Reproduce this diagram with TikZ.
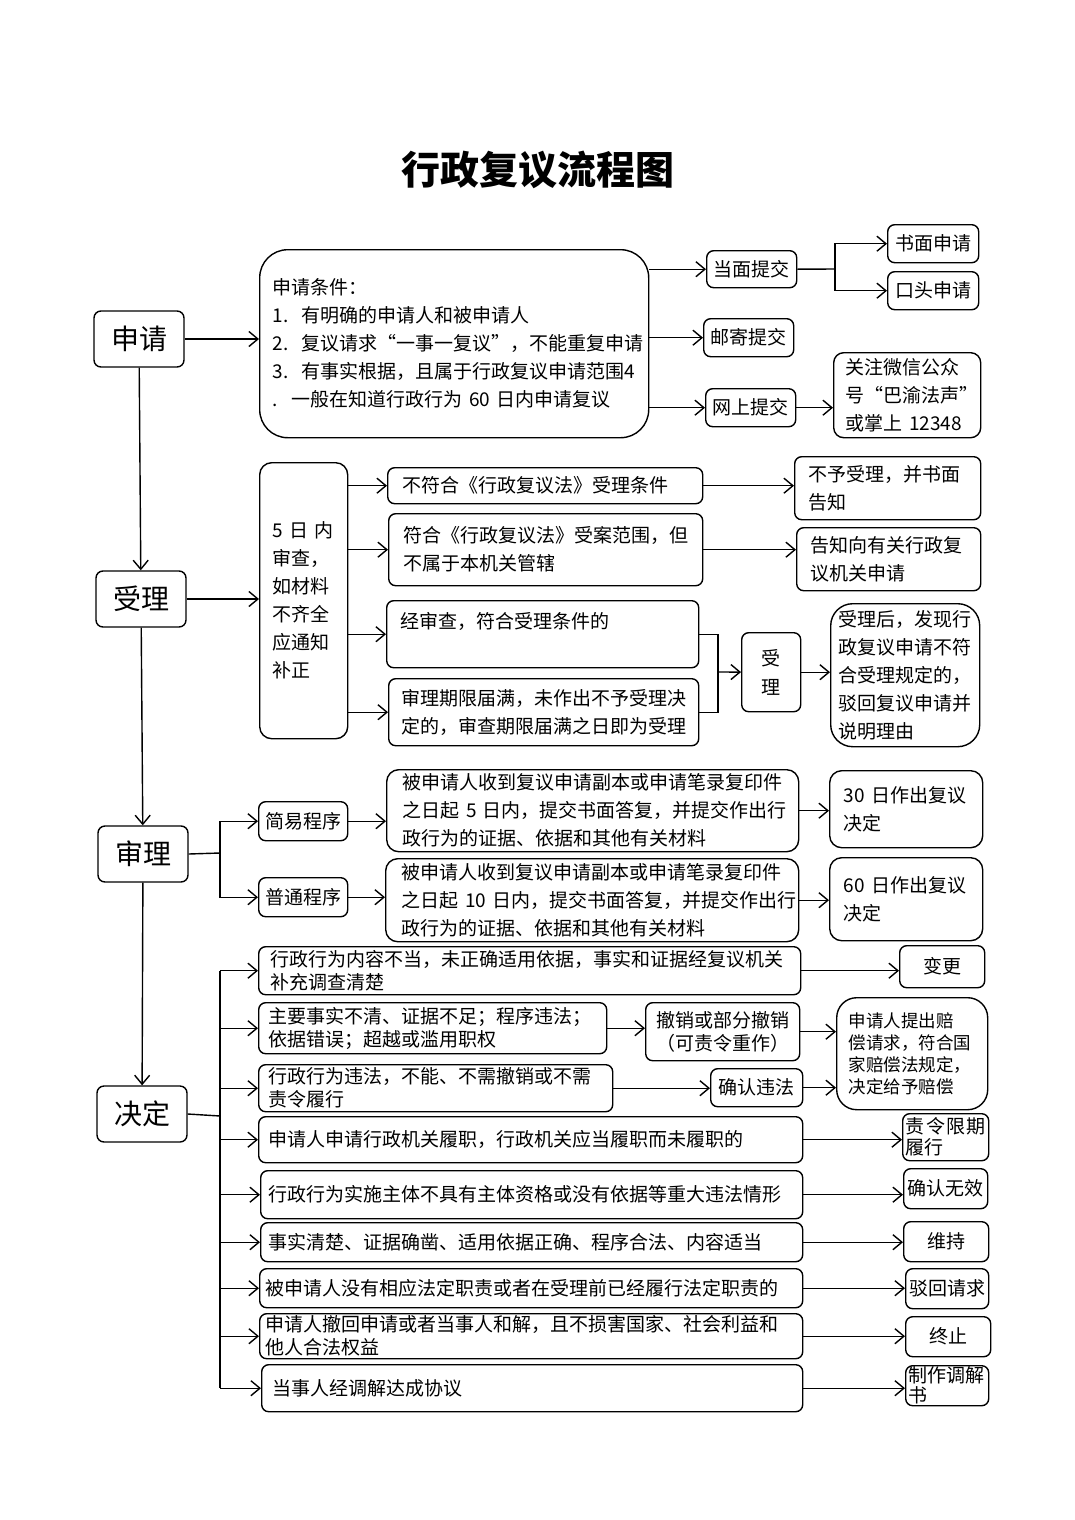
\documentclass[tikz,border=0pt]{standalone}
\usepackage{fontspec}
\setmainfont{Noto Sans CJK SC}
\usetikzlibrary{arrows.meta}

\begin{document}
\begin{tikzpicture}[x=1pt, y=-1pt, line width=1.4pt,
  font=\fontsize{19}{28}\selectfont,
  block/.style={rectangle, rounded corners=7pt, draw, line width=1.4pt, inner sep=0pt,
    anchor=north west, align=center},
  text block/.style={block, align=left, inner xsep=12pt},
  main block/.style={block, anchor=center, font=\fontsize{28}{30}\selectfont,
    minimum width=90pt, minimum height=56pt},
  tight/.style={font=\fontsize{19}{23}\selectfont},
  line/.style={draw, -{Straight Barb[length=9pt,width=15pt]}},
  ]
  \useasboundingbox[fill=white] (0,0) rectangle (1074,1520);

  \node (title) at (538,170) {\fontsize{39}{42}\selectfont\bfseries 行政复议流程图};

  % left column
  \node (apply)  [main block] at (139,339)  {申请};
  \node (accept) [main block] at (141,599)  {受理};
  \node (review) [main block] at (143,854)  {审理};
  \node (decide) [main block] at (142,1114) {决定};

  % application
  \node (cond) [text block, rounded corners=28pt, inner xsep=13pt, text width=363pt,
    minimum height=188pt] at (259,249) {申请条件：\\
    \makebox[29pt][l]{1.}有明确的申请人和被申请人\\
    \makebox[29pt][l]{2.}复议请求“一事一复议”，不能重复申请\\
    \makebox[29pt][l]{3.}有事实根据，且属于行政复议申请范围4\\
    \makebox[19pt][l]{.}一般在知道行政行为 60 日内申请复议};
  \node (inperson) [block, minimum width=90pt, minimum height=37pt] at (706,250) {当面提交};
  \node (mail)     [block, minimum width=90pt, minimum height=38pt] at (703,318) {邮寄提交};
  \node (online)   [block, minimum width=90pt, minimum height=38pt] at (705,388) {网上提交};
  \node (written)  [block, minimum width=91pt, minimum height=38pt] at (887,224) {书面申请};
  \node (oral)     [block, minimum width=91pt, minimum height=38pt] at (887,271) {口头申请};
  \node (wechat) [text block, rounded corners=10pt, text width=123pt, minimum height=85pt]
    at (833,352) {关注微信公众\\号“巴渝法声”\\或掌上 12348};

  % acceptance
  \node (check) [text block, rounded corners=12pt, inner xsep=13pt, text width=62pt,
    minimum height=276pt] at (259,462) {5 日 内\\审查，\\如材料\\不齐全\\应通知\\补正};
  \node (nofit) [text block, inner xsep=15pt, text width=285pt, minimum height=36pt]
    at (387,467) {不符合《行政复议法》受理条件};
  \node (noscope) [text block, inner xsep=15pt, text width=284pt, minimum height=72pt]
    at (388,513) {符合《行政复议法》受案范围，但\\不属于本机关管辖};
  \node (passed) [text block, inner xsep=14pt, text width=284pt, minimum height=67pt]
    at (386,600) {经审查，符合受理条件的\\\mbox{}};
  \node (expired) [text block, inner xsep=13pt, text width=284pt, minimum height=67pt]
    at (388,678) {审理期限届满，未作出不予受理决\\定的，审查期限届满之日即为受理};
  \node (reject) [text block, inner xsep=14pt, text width=158pt, minimum height=63pt]
    at (794,456) {不予受理，并书面\\告知};
  \node (refer) [text block, inner xsep=14pt, text width=156pt, minimum height=63pt]
    at (796,527) {告知向有关行政复\\议机关申请};
  \node (accepted) [block, font=\fontsize{19}{29}\selectfont, minimum width=59pt,
    minimum height=79pt] at (741,632) {受\\理};
  \node (dismiss) [text block, rounded corners=22pt, inner xsep=8pt, text width=133pt,
    minimum height=143pt] at (830,603)
    {受理后，发现行\\政复议申请不符\\合受理规定的，\\驳回复议申请并\\说明理由};

  % hearing
  \node (simple) [block, minimum width=89pt, minimum height=39pt] at (258,801) {简易程序};
  \node (normal) [block, minimum width=89pt, minimum height=39pt] at (258,877) {普通程序};
  \node (simpletext) [text block, rounded corners=12pt, inner xsep=16pt, text width=380pt,
    minimum height=82pt] at (386,769)
    {被申请人收到复议申请副本或申请笔录复印件\\之日起 5 日内，提交书面答复，并提交作出行\\政行为的证据、依据和其他有关材料};
  \node (normaltext) [text block, rounded corners=12pt, inner xsep=16pt, text width=381pt,
    minimum height=83pt] at (385,858)
    {被申请人收到复议申请副本或申请笔录复印件\\之日起 10 日内，提交书面答复，并提交作出行\\政行为的证据、依据和其他有关材料};
  \node (simpledays) [text block, rounded corners=12pt, inner xsep=14pt, text width=125pt,
    minimum height=77pt] at (829,770) {\mbox{30 日作出复议}\\决定};
  \node (normaldays) [text block, rounded corners=12pt, inner xsep=14pt, text width=125pt,
    minimum height=83pt] at (829,857) {\mbox{60 日作出复议}\\决定};

  % decision
  \node (d1) [text block, tight, text width=518pt, minimum height=48pt] at (258,946)
    {行政行为内容不当，未正确适用依据，事实和证据经复议机关\\补充调查清楚};
  \node (d2) [text block, tight, inner xsep=10pt, text width=328pt, minimum height=51pt]
    at (258,1002) {主要事实不清、证据不足；程序违法；\\依据错误；超越或滥用职权};
  \node (d3) [text block, tight, inner xsep=10pt, text width=334pt, minimum height=47pt]
    at (258,1064) {行政行为违法，不能、不需撤销或不需\\责令履行};
  \node (d4) [text block, inner xsep=10pt, text width=524pt, minimum height=46pt]
    at (258,1116) {申请人申请行政机关履职，行政机关应当履职而未履职的};
  \node (d5) [text block, inner xsep=8pt, text width=526pt, minimum height=48pt]
    at (260,1170) {行政行为实施主体不具有主体资格或没有依据等重大违法情形};
  \node (d6) [text block, inner xsep=8pt, text width=526pt, minimum height=39pt]
    at (260,1222) {事实清楚、证据确凿、适用依据正确、程序合法、内容适当};
  \node (d7) [text block, inner xsep=6pt, text width=531pt, minimum height=39pt]
    at (259,1268) {被申请人没有相应法定职责或者在受理前已经履行法定职责的};
  \node (d8) [text block, tight, inner xsep=6pt, text width=531pt, minimum height=45pt]
    at (259,1313) {申请人撤回申请或者当事人和解，且不损害国家、社会利益和\\他人合法权益};
  \node (d9) [text block, inner xsep=11pt, text width=519pt, minimum height=47pt]
    at (261,1364) {当事人经调解达成协议};

  \node (r1) [block, minimum width=85pt, minimum height=42pt] at (899,945) {变更};
  \node (revoke) [block, tight, minimum width=154pt, minimum height=58pt] at (645,1002)
    {撤销或部分撤销\\（可责令重作）};
  \node (comp) [text block, rounded corners=20pt, font=\fontsize{17.5}{22}\selectfont,
    text width=127pt, minimum height=112pt] at (836,997)
    {申请人提出赔\\偿请求，符合国\\家赔偿法规定，\\决定给予赔偿};
  \node (illegal) [block, minimum width=92pt, minimum height=38pt] at (710,1068) {确认违法};
  \node (r4) [text block, font=\fontsize{19}{21}\selectfont, inner xsep=3pt, text width=80pt,
    minimum height=47pt] at (902,1113)
    {\makebox[80pt][s]{责\hfill 令\hfill 限\hfill 期}\\履行};
  \node (r5) [block, minimum width=84pt, minimum height=40pt] at (903,1168) {确认无效};
  \node (r6) [block, minimum width=85pt, minimum height=40pt] at (903,1221) {维持};
  \node (r7) [block, minimum width=83pt, minimum height=40pt] at (905,1268) {驳回请求};
  \node (r8) [block, minimum width=85pt, minimum height=40pt] at (905,1316) {终止};
  \node (r9) [text block, font=\fontsize{19}{20}\selectfont, inner xsep=3pt, text width=77pt,
    minimum height=40pt] at (905,1365) {制作调解\\书};

  % special edges:
  \path[line] (apply) -- (accept);
  \path[line] (accept) -- (review);
  \path[line] (review) -- (decide);

  \path[line] (apply.east) -- (apply.east -| cond.west);
  \path[line] (cond.east |- inperson) -- (inperson);
  \path[line] (cond.east |- mail) -- (mail);
  \path[line] (cond.east |- online) -- (online);
  \coordinate (fork) at (835,269);
  \draw (inperson.east) -- (fork);
  \path[line] (fork) |- (written);
  \path[line] (fork) |- (oral);
  \path[line] (online.east) -- (online.east -| wechat.west);

  \path[line] (accept.east) -- (accept.east -| check.west);
  \path[line] (check.east |- nofit.west) -- (nofit.west);
  \path[line] (check.east |- noscope.west) -- (noscope.west);
  \path[line] (check.east |- passed.west) -- (passed.west);
  \path[line] (check.east |- expired.west) -- (expired.west);
  \path[line] (nofit.east) -- (nofit.east -| reject.west);
  \path[line] (noscope.east) -- (noscope.east -| refer.west);
  \coordinate (brk) at (718,672);
  \draw (passed.east) -| (brk) |- (expired.east);
  \path[line] (brk) -- (accepted);
  \path[line] (accepted) -- (accepted -| dismiss.west);

  \coordinate (rbus) at (220,853);
  \draw (review.east) -- (rbus);
  \path[line] (rbus) |- (simple);
  \path[line] (rbus) |- (normal);
  \path[line] (simple) -- (simple -| simpletext.west);
  \path[line] (normal) -- (normal -| normaltext.west);
  \path[line] (simpletext.east) -- (simpletext.east -| simpledays.west);
  \path[line] (normaltext.east) -- (normaltext.east -| normaldays.west);

  \coordinate (dbus) at (220,1116);
  \draw (decide.east) -- (dbus);
  \draw (dbus |- d1.west) -- (dbus |- d9.west);
  \foreach \d in {d1,d2,d3,d4,d5,d6,d7,d8,d9}
    \path[line] (dbus |- \d.west) -- (\d.west);
  \path[line] (d1.east) -- (d1.east -| r1.west);
  \path[line] (d2.east) -- (d2.east -| revoke.west);
  \path[line] (revoke.east) -- (revoke.east -| comp.west);
  \path[line] (d3.east) -- (d3.east -| illegal.west);
  \path[line] (illegal.east) -- (illegal.east -| comp.west);
  \path[line] (d4.east) -- (d4.east -| r4.west);
  \path[line] (d5.east) -- (d5.east -| r5.west);
  \path[line] (d6.east) -- (d6.east -| r6.west);
  \path[line] (d7.east) -- (d7.east -| r7.west);
  \path[line] (d8.east) -- (d8.east -| r8.west);
  \path[line] (d9.east) -- (d9.east -| r9.west);
\end{tikzpicture}
\end{document}
